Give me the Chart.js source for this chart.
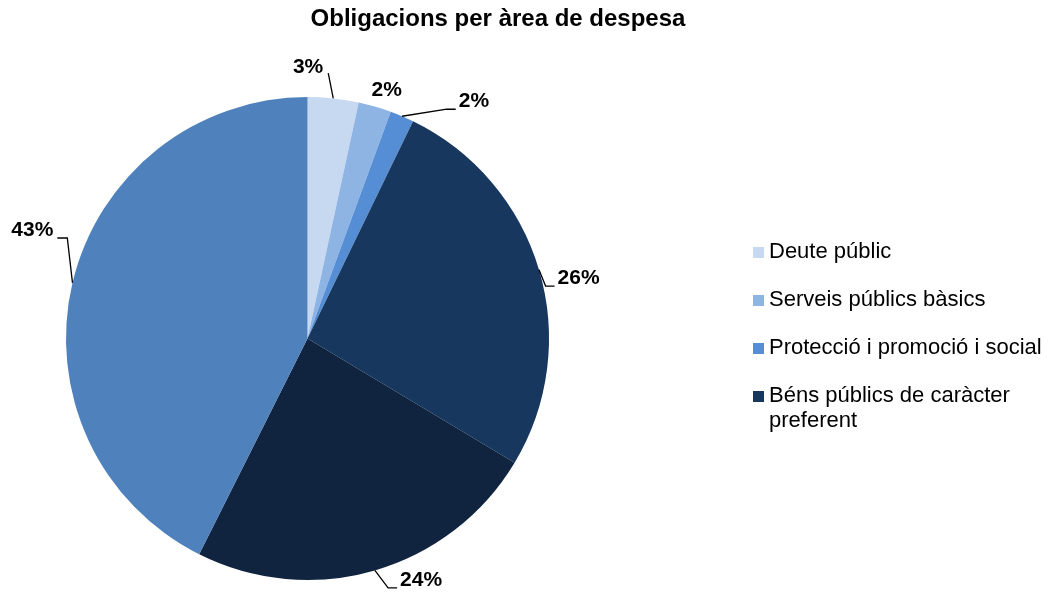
<!DOCTYPE html>
<html>
<head>
<meta charset="utf-8">
<script src="https://cdn.jsdelivr.net/npm/chart.js@4"></script>
<style>
  html, body { margin: 0; padding: 0; background: #fff; }
  #wrap { position: relative; width: 1050px; height: 593px; }
</style>
</head>
<body>
<div id="wrap"><canvas id="pieChart" width="1050" height="593"></canvas></div>
<script>
// Data (shares of total obligations, %)
const categories = [
    'Deute públic',
    'Serveis públics bàsics',
    'Protecció i promoció i social',
    'Béns públics de caràcter preferent',
    'Actuacions de caràcter econòmic',
    'Actuacions de caràcter general'
];
const shares = [3.4, 2.2, 1.6, 26.4, 23.8, 42.6];
const shareLabels = ['3%', '2%', '2%', '26%', '24%', '43%'];
const legendShown = 4; // the original legend only lists the first four areas

const colors = ['#c6d9f1', '#8eb4e3', '#558ed5', '#17375e', '#10243f', '#4f81bd'];

// where each percentage label sits: angle shift (deg) and distance from centre (x radius)
const labelPlacement = [
    { dAngle: -6, r: 1.124, leader: 'below' },
    { dAngle: 1.5, r: 1.08, leader: 'none' },
    { dAngle: 12, r: 1.20, leader: 'right' },
    { dAngle: 4, r: 1.15, leader: 'right' },
    { dAngle: -9, r: 1.105, leader: 'right' },
    { dAngle: 8.2, r: 1.225, leader: 'left' }
];

const FONT = '"Liberation Sans", Arial, sans-serif';

const extrasPlugin = {
    id: 'extras',
    afterDraw(chart) {
        const c = chart.ctx;
        const meta = chart.getDatasetMeta(0);
        c.save();

        // title
        c.fillStyle = '#000';
        c.font = 'bold 24px ' + FONT;
        c.textAlign = 'center';
        c.textBaseline = 'middle';
        c.fillText('Obligacions per àrea de despesa', 498, 19);

        // data labels with leader lines
        c.font = 'bold 21px ' + FONT;
        c.strokeStyle = '#000';
        c.lineWidth = 1.3;
        meta.data.forEach((arc, i) => {
            const p = arc.getProps(['x', 'y', 'startAngle', 'endAngle', 'outerRadius'], true);
            const mid = (p.startAngle + p.endAngle) / 2;
            const pl = labelPlacement[i];
            const a = mid + pl.dAngle * Math.PI / 180;
            const lx = p.x + Math.cos(a) * p.outerRadius * pl.r;
            const ly = p.y + Math.sin(a) * p.outerRadius * pl.r;
            const text = shareLabels[i];
            const w = c.measureText(text).width;
            c.fillText(text, lx, ly);

            const ex = p.x + Math.cos(mid) * p.outerRadius;
            const ey = p.y + Math.sin(mid) * p.outerRadius;
            c.beginPath();
            if (pl.leader === 'right') {
                const hx = lx - w / 2 - 3;
                const hy = ly + 8;
                c.moveTo(ex, ey);
                c.lineTo(hx - 9, hy);
                c.lineTo(hx, hy);
            } else if (pl.leader === 'left') {
                const hx = lx + w / 2 + 4;
                const hy = ly + 8;
                c.moveTo(ex, ey);
                c.lineTo(hx + 10, hy);
                c.lineTo(hx, hy);
            } else if (pl.leader === 'below') {
                c.moveTo(ex, ey);
                c.lineTo(lx + w / 2 + 5, ly + 6);
            }
            c.stroke();
        });

        // legend (first four entries only, wrapped like the original)
        c.textAlign = 'left';
        c.font = '22px ' + FONT;
        let y = 252;
        for (let i = 0; i < legendShown; i++) {
            c.fillStyle = colors[i];
            c.fillRect(753, y - 5, 11, 11);
            c.fillStyle = '#000';
            const words = categories[i].split(' ');
            let line = '';
            const lines = [];
            words.forEach(wd => {
                const test = line ? line + ' ' + wd : wd;
                if (c.measureText(test).width > 285 && line) {
                    lines.push(line);
                    line = wd;
                } else {
                    line = test;
                }
            });
            lines.push(line);
            lines.forEach((ln, k) => c.fillText(ln, 769, y + k * 25));
            y += 48;
        }
        c.restore();
    }
};

new Chart(document.getElementById('pieChart'), {
    type: 'pie',
    data: {
        labels: categories,
        datasets: [{
            data: shares,
            backgroundColor: colors,
            borderWidth: 0
        }]
    },
    options: {
        responsive: false,
        animation: false,
        layout: { padding: { top: 97, bottom: 13, left: 66, right: 501 } },
        plugins: {
            legend: { display: false },
            title: { display: false },
            tooltip: { enabled: false }
        }
    },
    plugins: [extrasPlugin]
});
</script>
</body>
</html>
